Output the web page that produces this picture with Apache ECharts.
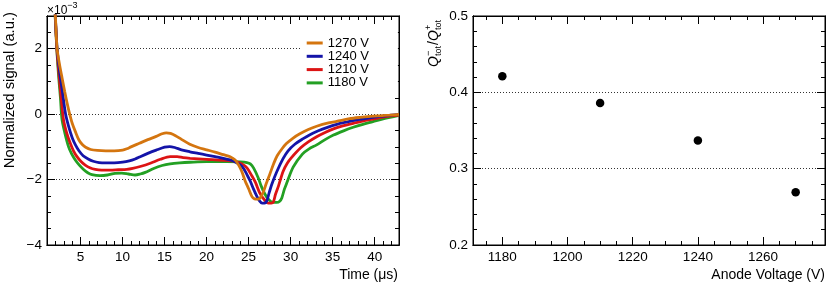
<!DOCTYPE html>
<html>
<head>
<meta charset="utf-8">
<script src="https://cdn.jsdelivr.net/npm/echarts@6/dist/echarts.min.js"></script>
<style>html,body{margin:0;padding:0;background:#fff;}#c{width:831px;height:288px;}</style>
</head>
<body>
<div id="c"></div>
<script>
// ---------- data ----------
const seriesNames = ['1270 V', '1240 V', '1210 V', '1180 V'];
const seriesColors = ['#d4750f', '#1414a8', '#dc1414', '#23a023'];

const sig1270 = [[1.92,3.4],[2.0,3.0],[2.2,2.0],[2.5,1.5],[2.8,1.1],[3.1,0.7],[3.4,0.33],[3.7,0.0],[4.0,-0.28],[4.4,-0.55],[4.8,-0.79],[5.2,-0.93],[5.6,-1.01],[6.2,-1.08],[7,-1.11],[8,-1.12],[9,-1.12],[10,-1.10],[10.5,-1.06],[11,-1.0],[12,-0.89],[13,-0.78],[14,-0.68],[14.7,-0.6],[15.2,-0.57],[15.7,-0.59],[16.3,-0.66],[17,-0.77],[18,-0.92],[19,-1.02],[20,-1.09],[21,-1.16],[22,-1.24],[22.8,-1.3],[23.4,-1.4],[23.8,-1.55],[24.2,-1.76],[24.6,-2.05],[25.0,-2.28],[25.4,-2.52],[25.7,-2.59],[26.1,-2.6],[26.4,-2.55],[26.75,-2.38],[27.1,-2.12],[27.5,-1.85],[28.0,-1.5],[28.4,-1.27],[29.0,-1.05],[29.5,-0.9],[30.3,-0.73],[31.1,-0.6],[32.1,-0.47],[33.1,-0.37],[34.5,-0.27],[35.9,-0.2],[37,-0.14],[38.25,-0.1],[39.5,-0.07],[40.6,-0.05],[41.8,-0.03],[42.9,-0.01]];
const sig1240 = [[1.92,3.4],[2.0,2.95],[2.2,2.0],[2.5,1.3],[2.8,0.75],[3.2,0.02],[3.6,-0.4],[4.0,-0.72],[4.4,-0.95],[4.8,-1.12],[5.3,-1.27],[5.9,-1.37],[6.5,-1.44],[7.2,-1.48],[8,-1.49],[9,-1.49],[10,-1.47],[10.8,-1.43],[11.5,-1.37],[12.1,-1.3],[13,-1.2],[14,-1.1],[15,-1.01],[15.6,-0.99],[16.2,-1.02],[17,-1.09],[18,-1.15],[19,-1.2],[20,-1.25],[21,-1.3],[22,-1.35],[22.8,-1.4],[23.4,-1.46],[24,-1.55],[24.4,-1.66],[24.8,-1.85],[25.2,-2.05],[25.6,-2.3],[26.0,-2.52],[26.3,-2.65],[26.6,-2.72],[26.9,-2.72],[27.15,-2.66],[27.45,-2.4],[27.75,-2.15],[28.35,-1.76],[29.1,-1.36],[29.7,-1.12],[30.5,-0.92],[31.5,-0.75],[32.3,-0.63],[33.3,-0.51],[34.3,-0.41],[35.5,-0.31],[36.7,-0.24],[38,-0.17],[39.05,-0.13],[40,-0.09],[41,-0.06],[42,-0.03],[42.9,-0.01]];
const sig1210 = [[1.92,3.4],[2.0,2.9],[2.2,1.9],[2.45,1.15],[2.7,0.45],[2.97,-0.18],[3.35,-0.58],[3.77,-0.89],[4.15,-1.12],[4.57,-1.3],[5.05,-1.45],[5.55,-1.56],[6.1,-1.64],[6.74,-1.69],[7.5,-1.71],[8.5,-1.71],[9.5,-1.7],[10.5,-1.69],[11.2,-1.66],[12.1,-1.6],[13.3,-1.5],[14.5,-1.38],[15.66,-1.3],[16.5,-1.3],[17.2,-1.33],[18.04,-1.35],[20,-1.38],[22,-1.41],[23.5,-1.45],[24.2,-1.52],[24.8,-1.64],[25.3,-1.85],[25.8,-2.08],[26.35,-2.42],[26.95,-2.64],[27.35,-2.72],[27.7,-2.72],[27.95,-2.68],[28.2,-2.45],[28.55,-2.2],[29.1,-1.75],[29.6,-1.5],[30.1,-1.33],[31.2,-1.03],[32.1,-0.85],[33.1,-0.69],[34.1,-0.56],[35.1,-0.45],[36.2,-0.36],[37.45,-0.28],[38.6,-0.21],[39.8,-0.15],[40.8,-0.1],[41.8,-0.06],[42.9,-0.03]];
const sig1180 = [[1.92,3.4],[2.0,2.85],[2.2,1.85],[2.4,1.1],[2.6,0.5],[2.78,-0.15],[3.1,-0.55],[3.57,-1.0],[3.95,-1.22],[4.37,-1.40],[4.85,-1.56],[5.35,-1.69],[5.85,-1.79],[6.35,-1.85],[7.3,-1.88],[8.2,-1.86],[9.1,-1.81],[9.9,-1.8],[10.7,-1.83],[11.5,-1.86],[12.1,-1.83],[12.7,-1.78],[13.7,-1.66],[14.7,-1.57],[15.66,-1.52],[16.8,-1.49],[18.04,-1.47],[20,-1.45],[22.4,-1.45],[24,-1.46],[24.8,-1.48],[25.2,-1.52],[25.6,-1.65],[26.15,-1.95],[26.5,-2.2],[26.95,-2.45],[27.35,-2.6],[27.75,-2.69],[28.35,-2.7],[28.7,-2.66],[28.95,-2.56],[29.25,-2.3],[29.55,-2.1],[30.3,-1.62],[31.4,-1.22],[32.2,-1.06],[33.1,-0.94],[34.1,-0.78],[35.1,-0.64],[36.3,-0.51],[37.45,-0.4],[38.6,-0.31],[39.8,-0.23],[40.8,-0.16],[41.8,-0.1],[42.9,-0.04]];

const anodeVoltage = [1180, 1210, 1240, 1270];
const chargeRatio = [0.421, 0.386, 0.337, 0.269];

// tick labels
const timeTicks = [5, 10, 15, 20, 25, 30, 35, 40];
const signalTicks = [-4, -2, 0, 2];
const voltTicks = [1180, 1200, 1220, 1240, 1260];
const ratioTicks = [0.2, 0.3, 0.4, 0.5];

// minor tick positions
function minorRange(a, b, step, majors) {
  const out = [];
  const n = Math.round((b - a) / step);
  for (let i = 0; i <= n; i++) {
    const v = Math.round((a + i * step) * 1000) / 1000;
    if (!majors.some(m => Math.abs(m - v) < 1e-9)) out.push(v);
  }
  return out;
}
const timeMinor = minorRange(2, 42, 1, timeTicks);
const signalMinor = minorRange(-3.5, 2.5, 0.5, signalTicks);
const voltMinor = minorRange(1175, 1275, 5, voltTicks);
const ratioMinor = minorRange(0.22, 0.48, 0.02, ratioTicks);

// ---------- chart ----------
const FONT = '"Liberation Sans", Arial, Helvetica, sans-serif';
const chart = echarts.init(document.getElementById('c'));

function mkX(grid, min, max, pos, values, len, labels, fmt) {
  return {
    type: 'value', gridIndex: grid, min: min, max: max, position: pos,
    axisLine: { show: true, onZero: false, lineStyle: { color: '#000', width: 1 } },
    axisTick: { show: true, inside: true, length: len, customValues: values, lineStyle: { color: '#000', width: 1 } },
    axisLabel: labels ? { show: true, customValues: values, color: '#000', fontSize: 13.5, fontFamily: FONT, margin: 5, formatter: fmt } : { show: false },
    splitLine: { show: false }
  };
}
function mkY(grid, min, max, interval, pos, values, len, labels, fmt, split) {
  return {
    type: 'value', gridIndex: grid, min: min, max: max, interval: interval, position: pos,
    axisLine: { show: true, onZero: false, lineStyle: { color: '#000', width: 1 } },
    axisTick: { show: true, inside: true, length: len, customValues: values, lineStyle: { color: '#000', width: 1 } },
    axisLabel: labels ? { show: true, customValues: values, color: '#000', fontSize: 13.5, fontFamily: FONT, margin: 5, formatter: fmt } : { show: false },
    splitLine: split ? { show: true, lineStyle: { color: '#333', width: 1, type: [1, 2] } } : { show: false }
  };
}
const minusFmt = v => (v < 0 ? '\u2212' + (-v) : String(v));
const oneDec = v => Number(v).toFixed(1);

const sigData = [sig1270, sig1240, sig1210, sig1180];

// stacked sub/superscript title pieces (local coords, reading direction +x)
function t(x, y, text, size, italic) {
  return { type: 'text', x: x, y: y,
    style: { text: text, fill: '#000', font: (italic ? 'italic ' : '') + size + 'px ' + FONT, align: 'left', verticalAlign: 'middle' } };
}

const option = {
  animation: false,
  backgroundColor: '#fff',
  textStyle: { fontFamily: FONT },
  grid: [
    { left: 47, top: 16, width: 352, height: 229, show: true, borderColor: '#000', borderWidth: 1, backgroundColor: 'transparent' },
    { left: 473, top: 16, width: 352, height: 229, show: true, borderColor: '#000', borderWidth: 1, backgroundColor: 'transparent' }
  ],
  xAxis: [
    mkX(0, 1, 42.9, 'bottom', timeTicks, 8, true, v => String(v)),
    mkX(0, 1, 42.9, 'bottom', timeMinor, 4, false),
    mkX(0, 1, 42.9, 'top', timeTicks, 8, false),
    mkX(0, 1, 42.9, 'top', timeMinor, 4, false),
    mkX(1, 1171, 1279, 'bottom', voltTicks, 8, true, v => String(v)),
    mkX(1, 1171, 1279, 'bottom', voltMinor, 4, false),
    mkX(1, 1171, 1279, 'top', voltTicks, 8, false),
    mkX(1, 1171, 1279, 'top', voltMinor, 4, false)
  ],
  yAxis: [
    mkY(0, -4, 3, 2, 'left', signalTicks, 8, true, minusFmt, true),
    mkY(0, -4, 3, 2, 'left', signalMinor, 4, false),
    mkY(0, -4, 3, 2, 'right', signalTicks, 8, false),
    mkY(0, -4, 3, 2, 'right', signalMinor, 4, false),
    mkY(1, 0.2, 0.5, 0.1, 'left', ratioTicks, 8, true, oneDec, true),
    mkY(1, 0.2, 0.5, 0.1, 'left', ratioMinor, 4, false),
    mkY(1, 0.2, 0.5, 0.1, 'right', ratioTicks, 8, false),
    mkY(1, 0.2, 0.5, 0.1, 'right', ratioMinor, 4, false)
  ],
  legend: {
    orient: 'vertical', left: 302, top: 31.5,
    padding: [5, 29, 5, 4.7],
    backgroundColor: '#fff',
    itemWidth: 16, itemHeight: 3, itemGap: 0.3,
    icon: 'rect',
    textStyle: { color: '#000', fontSize: 13, fontFamily: FONT, lineHeight: 13 },
    data: seriesNames
  },
  series: seriesNames.map((name, i) => ({
    name: name, type: 'line', xAxisIndex: 0, yAxisIndex: 0,
    data: sigData[i], showSymbol: false, symbol: 'none', smooth: 0.3,
    clip: true, z: 10 - i,
    lineStyle: { color: seriesColors[i], width: 2.8 },
    itemStyle: { color: seriesColors[i] }
  })).concat([{
    name: 'ratio', type: 'scatter', xAxisIndex: 4, yAxisIndex: 4,
    data: anodeVoltage.map((v, i) => [v, chargeRatio[i]]),
    symbol: 'circle', symbolSize: 8.5,
    itemStyle: { color: '#000', opacity: 1 }
  }]),
  graphic: [
    { type: 'text', x: 10, y: 12, rotation: Math.PI / 2,
      style: { text: 'Normalized signal (a.u.)', fill: '#000', font: '14.8px ' + FONT, align: 'right', verticalAlign: 'middle' } },
    { type: 'text', x: 398, y: 275,
      style: { text: 'Time (\u03bcs)', fill: '#000', font: '14px ' + FONT, align: 'right', verticalAlign: 'middle' } },
    { type: 'text', x: 825, y: 275,
      style: { text: 'Anode Voltage (V)', fill: '#000', font: '14px ' + FONT, align: 'right', verticalAlign: 'middle' } },
    { type: 'text', x: 47, y: 9,
      style: { text: '{a|\u00d710}{b|\u22123}', align: 'left', verticalAlign: 'middle',
        rich: { a: { fontSize: 12, fontFamily: FONT, fill: '#000', lineHeight: 16, verticalAlign: 'bottom' },
                b: { fontSize: 9, fontFamily: FONT, fill: '#000', lineHeight: 10, verticalAlign: 'top' } } } },
    { type: 'group', x: 434, y: 67, rotation: Math.PI / 2,
      children: [
        t(0, 0, 'Q', 14, true),
        t(11, -5, '\u2212', 9, false),
        t(11, 4.5, 'tot', 9, false),
        t(22, 0, '/', 14, false),
        t(26, 0, 'Q', 14, true),
        t(37, -5, '+', 9, false),
        t(37, 4.5, 'tot', 9, false)
      ] }
  ]
};
chart.setOption(option);
</script>
</body>
</html>
